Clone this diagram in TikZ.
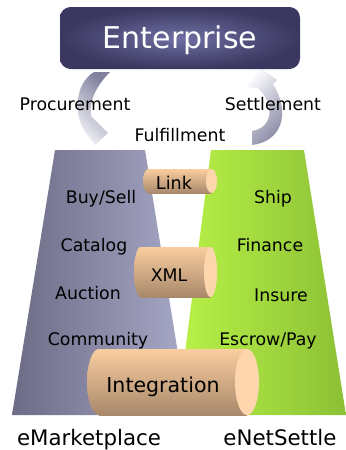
\documentclass[tikz,border=0pt]{standalone}
\usepackage{fontspec}
\setmainfont{DejaVu Sans}
\definecolor{boxout}{HTML}{3A3860}
\definecolor{boxin}{HTML}{6E6EA2}
\definecolor{grayL}{HTML}{6C6C86}
\definecolor{grayR}{HTML}{A8A8C8}
\definecolor{greenL}{HTML}{B8F248}
\definecolor{greenR}{HTML}{8CC035}
\definecolor{peachT}{HTML}{F9CD9F}
\definecolor{peachM}{HTML}{E4B286}
\definecolor{peachB}{HTML}{A8896B}
\definecolor{peachCap}{HTML}{FDD6AE}
\definecolor{arrLight}{HTML}{F6F6FA}
\definecolor{arrDark}{HTML}{80809E}
\newcommand\mycyl[5]{%
  \shade[top color=peachT, middle color=peachM, bottom color=peachB]
    (#1+#5,#3) rectangle (#2-#5,#4);
  \shade[top color=peachT, middle color=peachM, bottom color=peachB]
    (#1+#5,{(#3+#4)/2}) ellipse [x radius=#5, y radius={(#4-#3)/2}];
  \fill[peachCap] (#2-#5,{(#3+#4)/2}) ellipse [x radius=#5, y radius={(#4-#3)/2}];
}
\begin{document}
\begin{tikzpicture}[x=0.75pt,y=-0.75pt,
  lbl/.style={font=\fontsize{13}{15}\selectfont, text height=9.5pt, text depth=0pt, inner sep=0pt, text=black},
  big/.style={font=\fontsize{16}{19}\selectfont, text height=11.7pt, text depth=0pt, inner sep=0pt, text=black},
  cyltext/.style={inner sep=0pt, text depth=0pt, text=black}]
\useasboundingbox (0,0) rectangle (346,450);

% curved arrows
\shade[top color=arrDark, bottom color=arrLight, shading angle=-45]
  (94,72) -- (110,72) .. controls (94,88) and (89,104) .. (91,116)
  -- (108,133) -- (95,145) -- (89,137)
  .. controls (72,118) and (74,84) .. (94,72) -- cycle;
\shade[top color=arrLight, bottom color=arrDark, shading angle=45]
  (252,145) .. controls (280,142) and (292,115) .. (273,84)
  -- (277,80) -- (261,68) -- (248,87) -- (258,88)
  .. controls (276,106) and (272,128) .. (252,131) -- cycle;

% Enterprise box
\shade[inner color=boxin, outer color=boxout, rounded corners=8pt]
  (60,7) rectangle (300,69);
\node (ent) [font=\fontsize{22.5}{26}\selectfont, text=white, text height=16.4pt, text depth=0pt, inner sep=0pt] at (180,37.5) {Enterprise};

% trapezoids
\shade[left color=grayL, right color=grayR] (55,150) -- (145,150) -- (188,415) -- (12,415) -- cycle;
\shade[left color=greenL, right color=greenR] (211,150) -- (304,150) -- (346,415) -- (177,415) -- cycle;

% cylinders
\mycyl{143}{217}{169}{193}{5.5}
\mycyl{134}{217}{247}{297}{6.5}
\mycyl{87}{259}{349}{415}{12}

\node (link) [cyltext, font=\fontsize{13.2}{15}\selectfont, text height=9.6pt] at (174,183) {Link};
\node (xml) [cyltext, font=\fontsize{13}{15}\selectfont, text height=9.5pt] at (169,275) {XML};
\node (integ) [cyltext, font=\fontsize{15.4}{18}\selectfont, text height=11.2pt] at (163,385) {Integration};

% flow labels
\node (proc) [lbl] at (75,104) {Procurement};
\node (sett) [lbl] at (273,104) {Settlement};
\node (fulf) [lbl] at (180,135) {Fulfillment};

% left labels
\node (buy) [lbl] at (101,197) {Buy/Sell};
\node (cat) [lbl] at (94,245) {Catalog};
\node (auc) [lbl] at (88,293) {Auction};
\node (com) [lbl] at (98,339) {Community};

% right labels
\node (ship) [lbl] at (273,197) {Ship};
\node (fin) [lbl] at (270,245) {Finance};
\node (ins) [lbl] at (281,295) {Insure};
\node (esc) [lbl] at (268,339) {Escrow/Pay};

% bottom labels
\node (emk) [big] at (89,438) {eMarketplace};
\node (ens) [big] at (280,438) {eNetSettle};
\end{tikzpicture}
\end{document}
